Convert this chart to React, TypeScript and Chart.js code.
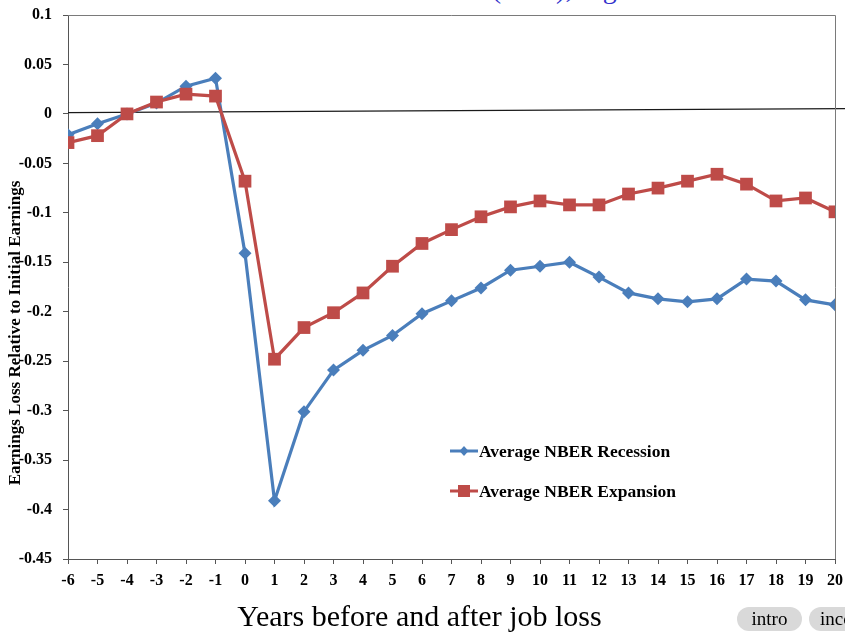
import { useEffect, useRef } from 'react';
import { Chart, registerables } from 'chart.js';

Chart.register(...registerables);

// years relative to job loss
const years = [-6, -5, -4, -3, -2, -1, 0, 1, 2, 3, 4, 5, 6, 7, 8, 9, 10, 11, 12, 13, 14, 15, 16, 17, 18, 19, 20];

const recession = [
  -0.021, -0.010, 0.000, 0.011, 0.028, 0.036, -0.141, -0.391, -0.301, -0.259, -0.239, -0.224, -0.202, -0.189,
  -0.176, -0.158, -0.154, -0.150, -0.165, -0.181, -0.187, -0.190, -0.187, -0.167, -0.169, -0.188, -0.193,
];

const expansion = [
  -0.029, -0.022, 0.000, 0.012, 0.020, 0.018, -0.068, -0.248, -0.216, -0.201, -0.181, -0.154, -0.131, -0.117,
  -0.104, -0.094, -0.088, -0.092, -0.092, -0.081, -0.075, -0.068, -0.061, -0.071, -0.088, -0.085, -0.099,
];

// the slightly tilted "zero" line drawn across the plot
const refLineX = [-6, 20.34];
const refLineY = [0.0012, 0.0054];

const seriesNames = ['Average NBER Recession', 'Average NBER Expansion'];
const yTitle = 'Earnings Loss Relative to Initial Earnings';
const xTitle = 'Years before and after job loss';

const BLUE = '#4a7ebb';
const RED = '#be4b48';
const SERIF = "'Liberation Serif', 'Times New Roman', serif";

const extras = {
  id: 'extras',
  afterDraw(chart: Chart) {
    const { ctx, chartArea: a } = chart;
    ctx.save();

    // box round the plot
    ctx.strokeStyle = '#7a7a7a';
    ctx.lineWidth = 1;
    ctx.beginPath();
    ctx.moveTo(a.left, a.top + 0.5);
    ctx.lineTo(a.right + 0.5, a.top + 0.5);
    ctx.lineTo(a.right + 0.5, a.bottom);
    ctx.stroke();

    // y title, sits lower than centre in the original
    ctx.fillStyle = '#000';
    ctx.font = `bold 17px ${SERIF}`;
    ctx.textAlign = 'center';
    ctx.textBaseline = 'middle';
    ctx.translate(16, 333);
    ctx.rotate(-Math.PI / 2);
    ctx.fillText(yTitle, 0, 0);
    ctx.setTransform(chart.currentDevicePixelRatio, 0, 0, chart.currentDevicePixelRatio, 0, 0);

    // legend inside the plot
    const rows = [
      { y: 451, color: BLUE, shape: 'diamond' },
      { y: 491, color: RED, shape: 'square' },
    ];
    rows.forEach((r, i) => {
      ctx.strokeStyle = r.color;
      ctx.fillStyle = r.color;
      ctx.lineWidth = 3;
      ctx.beginPath();
      ctx.moveTo(450, r.y);
      ctx.lineTo(478, r.y);
      ctx.stroke();
      const cx = 464;
      ctx.beginPath();
      if (r.shape === 'diamond') {
        ctx.moveTo(cx, r.y - 5);
        ctx.lineTo(cx + 4.5, r.y);
        ctx.lineTo(cx, r.y + 5);
        ctx.lineTo(cx - 4.5, r.y);
        ctx.closePath();
      } else {
        ctx.rect(cx - 6, r.y - 6, 12, 12);
      }
      ctx.fill();
      ctx.fillStyle = '#000';
      ctx.font = `bold 17.5px ${SERIF}`;
      ctx.textAlign = 'left';
      ctx.textBaseline = 'middle';
      ctx.fillText(seriesNames[i], 479, r.y + 1);
    });

    ctx.restore();
  },
};

export default function App() {
  const canvasRef = useRef<HTMLCanvasElement>(null);
  const chartRef = useRef<Chart | null>(null);

  useEffect(() => {
    if (!canvasRef.current) return;
    const ctx = canvasRef.current.getContext('2d');
    if (!ctx) return;

    const tickFont = { family: SERIF, size: 16, weight: 'bold' as const };

    chartRef.current?.destroy();
    chartRef.current = new Chart(ctx, {
      type: 'line',
      data: {
        datasets: [
          {
            label: seriesNames[1],
            data: years.map((x, i) => ({ x, y: expansion[i] })),
            borderColor: RED,
            backgroundColor: RED,
            borderWidth: 3.2,
            pointStyle: 'rect',
            pointRadius: 9,
            pointBorderWidth: 0,
            tension: 0,
            order: 1,
          },
          {
            label: seriesNames[0],
            data: years.map((x, i) => ({ x, y: recession[i] })),
            borderColor: BLUE,
            backgroundColor: BLUE,
            borderWidth: 3.2,
            pointStyle: 'rectRot',
            pointRadius: 6.5,
            pointBorderWidth: 0,
            tension: 0,
            order: 2,
          },
          {
            label: 'zero',
            data: refLineX.map((x, i) => ({ x, y: refLineY[i] })),
            borderColor: '#1a1a1a',
            borderWidth: 1.3,
            pointRadius: 0,
            clip: false,
            order: 3,
          },
        ],
      },
      options: {
        animation: false,
        responsive: false,
        events: [],
        layout: { padding: { top: 15, right: 10, left: 0, bottom: 0 } },
        plugins: {
          legend: { display: false },
          tooltip: { enabled: false },
        },
        scales: {
          x: {
            type: 'linear',
            min: -6,
            max: 20,
            border: { color: '#555', width: 1 },
            grid: { drawOnChartArea: false, tickLength: 5, color: '#555' },
            ticks: { stepSize: 1, color: '#000', font: tickFont, padding: 7, maxRotation: 0, autoSkip: false },
            afterFit: (s: any) => { s.height = 75; s.paddingLeft = 0; s.paddingRight = 0; },
          },
          y: {
            min: -0.45,
            max: 0.1,
            border: { color: '#555', width: 1 },
            grid: { drawOnChartArea: false, tickLength: 5, color: '#555' },
            ticks: {
              stepSize: 0.05,
              color: '#000',
              font: tickFont,
              padding: 11,
              callback: (v: any) => String(Number(Number(v).toFixed(2))),
            },
            afterFit: (s: any) => { s.width = 68; s.paddingTop = 0; s.paddingBottom = 0; },
          },
        },
      },
      plugins: [extras],
    });

    return () => { chartRef.current?.destroy(); };
  }, []);

  return (
    <div style={{ position: 'absolute', left: 0, top: 0, width: 845, height: 634, overflow: 'hidden', background: '#fff' }}>
      <div style={{ position: 'absolute', left: 224, top: -25, fontFamily: SERIF, fontSize: 28, lineHeight: '28px', color: '#3333cc', whiteSpace: 'nowrap' }}>
        Davis and von Wachter (2011), Figure 4
      </div>
      <canvas ref={canvasRef} width={845} height={634} style={{ position: 'absolute', left: 0, top: 0 }} />
      <div style={{ position: 'absolute', left: 0, width: 839, top: 601, textAlign: 'center', fontFamily: SERIF, fontSize: 30, lineHeight: '30px', color: '#000' }}>
        {xTitle}
      </div>
      <div style={{ position: 'absolute', left: 737, top: 607, width: 65, height: 24, borderRadius: 12, background: '#d9d9d9', fontFamily: SERIF, fontSize: 19, lineHeight: '24px', textAlign: 'center' }}>
        intro
      </div>
      <div style={{ position: 'absolute', left: 809, top: 607, width: 80, height: 24, borderRadius: 12, background: '#d9d9d9', fontFamily: SERIF, fontSize: 19, lineHeight: '24px', paddingLeft: 11, boxSizing: 'border-box', whiteSpace: 'nowrap' }}>
        income
      </div>
    </div>
  );
}
